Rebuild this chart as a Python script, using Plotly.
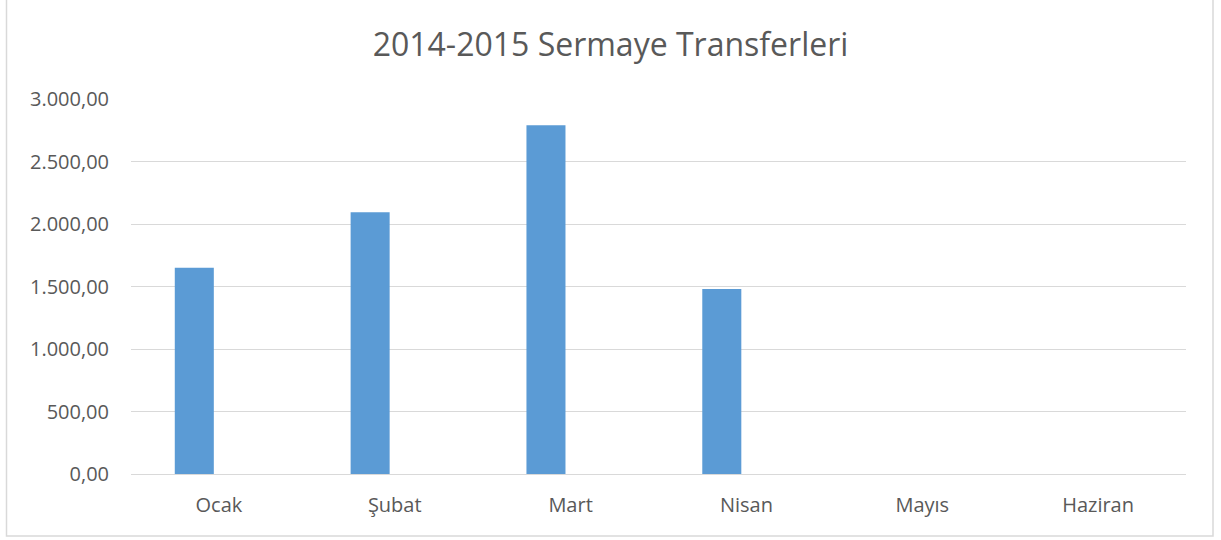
"""
2014-2015 Sermaye Transferleri - aylık sütun grafiği
"""

import plotly.graph_objects as go

# Aylar ve değerler
aylar = ["Ocak", "Şubat", "Mart", "Nisan", "Mayıs", "Haziran"]
degerler = [1650, 2095, 2790, 1480, None, None]
y_ticks = [0, 500, 1000, 1500, 2000, 2500, 3000]

BAR_RENK = "#5B9BD5"
GRID_RENK = "#D9D9D9"
YAZI_RENK = "#595959"
FONT = "Open Sans"

fig = go.Figure()

fig.add_trace(go.Bar(
    x=aylar,
    y=degerler,
    marker=dict(color=BAR_RENK, line=dict(width=0)),
    width=0.222,
    offset=-0.251,   # Excel'deki gibi sola kaymış sütun
    showlegend=False,
))

fig.update_layout(
    width=1221,
    height=540,
    margin=dict(l=131, r=35, t=99, b=66),
    paper_bgcolor="white",
    plot_bgcolor="white",
    separators=",.",   # Türkçe sayı biçimi: 3.000,00
    font=dict(family=FONT, color=YAZI_RENK),
    title=dict(
        text="2014-2015 Sermaye Transferleri",
        x=0.5,
        xanchor="center",
        y=1 - 45 / 540,
        yanchor="middle",
        font=dict(family=FONT, size=32, color=YAZI_RENK),
    ),
    xaxis=dict(
        type="category",
        showgrid=False,
        showline=False,
        zeroline=False,
        ticks="outside",
        ticklen=13,
        tickcolor="rgba(0,0,0,0)",
        tickfont=dict(size=20, color=YAZI_RENK),
    ),
    yaxis=dict(
        range=[0, 3000],
        tickvals=y_ticks,
        tickformat=",.2f",
        showgrid=True,
        gridcolor=GRID_RENK,
        gridwidth=1,
        zeroline=True,
        zerolinecolor=GRID_RENK,
        zerolinewidth=1,
        showline=False,
        ticks="outside",
        ticklen=17,
        tickcolor="rgba(0,0,0,0)",
        tickfont=dict(size=20, color=YAZI_RENK),
    ),
)

# Grafik çerçevesi
fig.add_shape(
    type="rect",
    xref="paper", yref="paper",
    x0=(6.5 - 131) / 1055, x1=(1213 - 131) / 1055,
    y0=(474 - 536) / 375, y1=(474 + 1) / 375,
    line=dict(color=GRID_RENK, width=1.5),
    fillcolor="rgba(0,0,0,0)",
    layer="below",
)

# sayfanın varsayılan 8px kenar boşluğunu kaldır, araç çubuğunu gizle
fig.write_html(
    "out.html",
    config={"displayModeBar": False},
    post_script="document.body.style.margin='0';",
)
